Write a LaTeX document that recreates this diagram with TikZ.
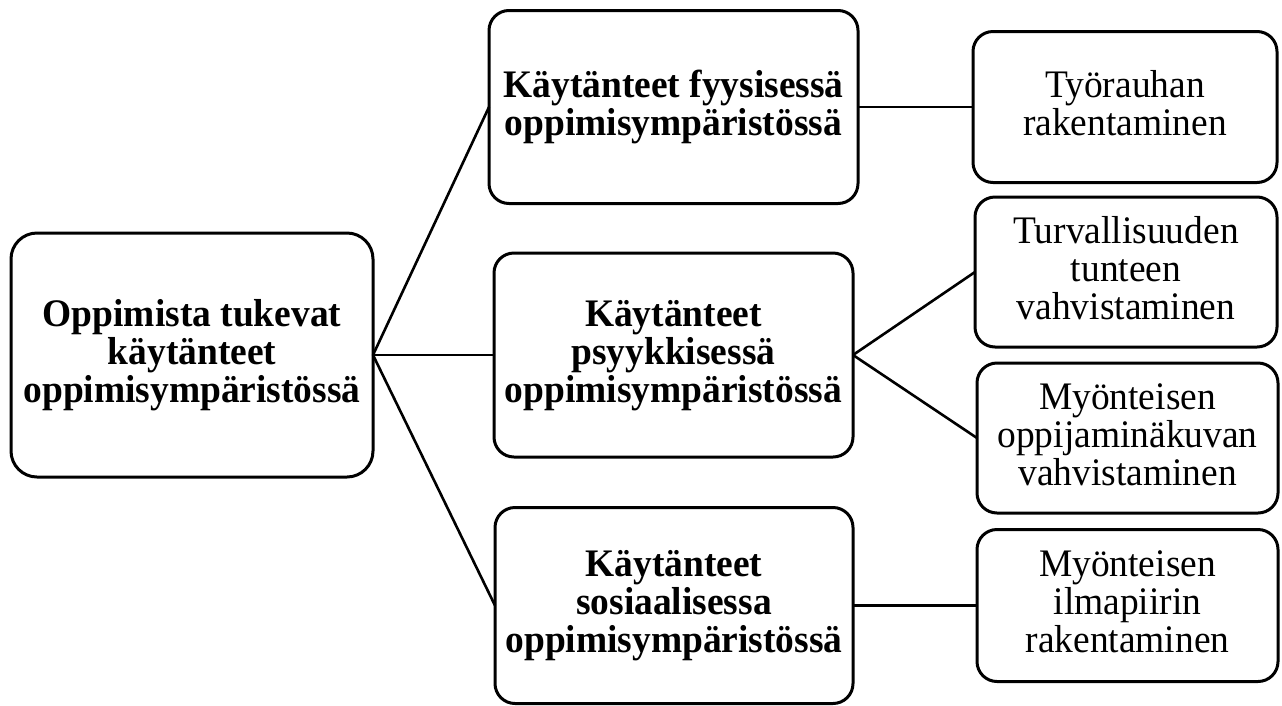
\documentclass[tikz,border=0pt]{standalone}
\usepackage{fontspec}
\setmainfont[FakeStretch=0.96]{Liberation Serif}
% strut fixing the height of the first line and the depth of the last one
\newcommand{\tstrut}{\rule[-10pt]{0pt}{38pt}}
\begin{document}
\begin{tikzpicture}[x=1pt,y=-1pt,
  box/.style={draw=black, line width=3pt, rounded corners=20pt, fill=white,
    inner sep=0pt, outer sep=0pt, align=center,
    font=\fontsize{39}{38}\selectfont},
  head/.style={box, font=\fontsize{39}{38}\selectfont\bfseries},
  link/.style={draw=black, line width=2.6pt}]
\useasboundingbox (0,0) rectangle (1282,705);

% root
\node[head, rounded corners=26pt, minimum width=362pt, minimum height=244pt] (root) at (192,355)
  {\tstrut Oppimista tukevat\\käytänteet\\oppimisympäristössä\tstrut};

% middle column
\node[head, minimum width=369pt, minimum height=193pt] (fyys) at (673.5,107)
  {\tstrut Käytänteet fyysisessä\\oppimisympäristössä\tstrut};
\node[head, minimum width=359pt, minimum height=204pt] (psyyk) at (673.5,355)
  {\tstrut Käytänteet\\psyykkisessä\\oppimisympäristössä\tstrut};
\node[head, minimum width=358pt, minimum height=196pt] (sos) at (674,605.5)
  {\tstrut Käytänteet\\sosiaalisessa\\oppimisympäristössä\tstrut};

% right column
\node[box, minimum width=304pt, minimum height=151pt] (tyo) at (1125,107)
  {\tstrut Työrauhan\\rakentaminen\tstrut};
\node[box, minimum width=302pt, minimum height=150pt] (turva) at (1126,272)
  {\tstrut Turvallisuuden\\tunteen\\vahvistaminen\tstrut};
\node[box, minimum width=301pt, minimum height=150pt] (minakuva) at (1127.5,438)
  {\tstrut Myönteisen\\oppijaminäkuvan\\vahvistaminen\tstrut};
\node[box, minimum width=301pt, minimum height=152pt] (ilma) at (1127.5,605.5)
  {\tstrut Myönteisen\\ilmapiirin\\rakentaminen\tstrut};

% connectors
\draw[link] (root.east) -- (fyys.west);
\draw[link] (root.east) -- (psyyk.west);
\draw[link] (root.east) -- (sos.west);
\draw[link] (fyys.east) -- (tyo.west);
\draw[link] (psyyk.east) -- (turva.west);
\draw[link] (psyyk.east) -- (minakuva.west);
\draw[link] (sos.east) -- (ilma.west);
\end{tikzpicture}
\end{document}
